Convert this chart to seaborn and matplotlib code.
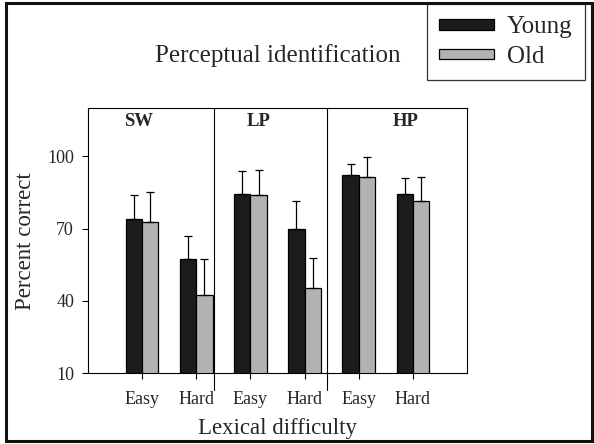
import matplotlib
matplotlib.use("Agg")
import matplotlib.pyplot as plt
import matplotlib.patches as mpatches
import seaborn as sns
import pandas as pd
import numpy as np

# ---- data ----
conditions = ["SW-Easy", "SW-Hard", "LP-Easy", "LP-Hard", "HP-Easy", "HP-Hard"]
tick_labels = ["Easy", "Hard", "Easy", "Hard", "Easy", "Hard"]
groups = ["Young", "Old"]
young_mean = [74.0, 57.4, 84.5, 69.8, 92.3, 84.2]
old_mean = [72.6, 42.5, 84.1, 45.3, 91.4, 81.5]
young_err = [10.1, 9.4, 9.3, 11.5, 4.4, 6.6]
old_err = [12.6, 14.9, 10.1, 12.5, 8.3, 9.9]
section_labels = ["SW", "LP", "HP"]
section_label_x = [-0.07, 2.15, 4.86]
divider_x = [1.33, 3.41]

df = pd.DataFrame({
    "cond": conditions * 2,
    "group": ["Young"] * 6 + ["Old"] * 6,
    "value": young_mean + old_mean,
})

sns.set_style("white")
plt.rcParams["font.family"] = ["Liberation Serif", "DejaVu Serif"]

fig = plt.figure(figsize=(5.94, 4.44), dpi=100)
ax = fig.add_axes([88 / 594, 1 - 373.3 / 444, (467 - 88) / 594, (373.3 - 108) / 444])

sns.barplot(data=df, x="cond", y="value", hue="group", order=conditions,
            hue_order=groups, palette=["#1c1c1c", "#b2b2b2"], width=0.6,
            edgecolor="black", linewidth=0.9, errorbar=None, ax=ax, saturation=1)

handles, labels = ax.get_legend_handles_labels()
if ax.get_legend() is not None:
    ax.get_legend().remove()

# error bars (upper only)
errs = [young_err, old_err]
for cont, err in zip(ax.containers, errs):
    xs = [b.get_x() + b.get_width() / 2 for b in cont]
    hs = [b.get_height() for b in cont]
    ax.errorbar(xs, hs, yerr=[np.zeros(len(err)), err], fmt="none",
                ecolor="black", elinewidth=0.9, capsize=2.9, capthick=0.9, zorder=1)

ax.set_xlim(-1, 6)
ax.set_ylim(10, 120)
ax.set_yticks([10, 40, 70, 100])
ax.set_xticks(range(6))
ax.set_xticklabels(tick_labels)
ax.tick_params(axis="both", direction="out", length=4, width=0.8, color="black",
               labelsize=13, bottom=True, left=True)
ax.tick_params(axis="x", pad=9)
ax.tick_params(axis="y", pad=6)
for s in ax.spines.values():
    s.set_visible(True)
    s.set_color("black")
    s.set_linewidth(0.8)

# section dividers
for dx in divider_x:
    ax.plot([dx, dx], [2.9, 120], color="black", lw=0.8, clip_on=False, zorder=3)

for lab, lx in zip(section_labels, section_label_x):
    ax.text(lx, 114.5, lab, ha="center", va="center", fontsize=13.5, fontweight="bold")

ax.set_xlabel("Lexical difficulty", fontsize=16.5, labelpad=7)
ax.set_ylabel("Percent correct", fontsize=16.5, labelpad=8)
ax.set_title("Perceptual identification", fontsize=18, pad=33)

leg = fig.legend(handles, labels, loc="upper right",
                 bbox_to_anchor=(585 / 594, 1 - 4 / 444), bbox_transform=fig.transFigure,
                 borderaxespad=0, fontsize=18, frameon=True, fancybox=False,
                 edgecolor="black", handlelength=2.2, handleheight=0.25,
                 handletextpad=0.5, labelspacing=0.3, borderpad=0.5)
leg.get_frame().set_linewidth(0.9)

# outer border
fig.patches.append(mpatches.Rectangle((5.5 / 594, 1 - 441 / 444), (592 - 5.5) / 594,
                                      (441 - 3.5) / 444, transform=fig.transFigure,
                                      fill=False, edgecolor="#111111", linewidth=2.2))

fig.savefig("out.png", dpi=100)
